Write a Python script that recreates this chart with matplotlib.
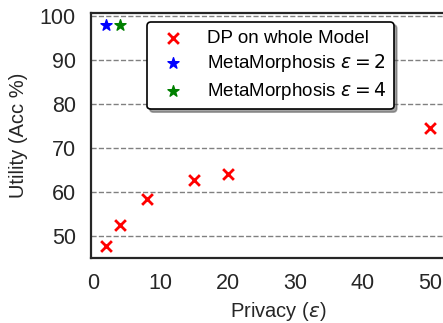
import matplotlib
matplotlib.use("Agg")
import matplotlib.pyplot as plt

plt.rcParams['font.family'] = ['Liberation Sans', 'DejaVu Sans']
plt.rcParams['mathtext.fontset'] = 'dejavusans'

dp_eps = [2, 4, 8, 15, 20, 50]
dp_acc = [47.8, 52.5, 58.5, 62.8, 64.2, 74.5]
mm2_eps = [2]
mm2_acc = [98.0]
mm4_eps = [4]
mm4_acc = [98.0]
xticks = [0, 10, 20, 30, 40, 50]
yticks = [50, 60, 70, 80, 90, 100]

W, H = 443, 323
fig = plt.figure(figsize=(W/100, H/100), dpi=100)
left, right, bottom, top = 91, 465, 65, 310
ax = fig.add_axes([left/W, bottom/H, (right-left)/W, (top-bottom)/H])

ax.scatter(dp_eps, dp_acc, marker='x', color='red', s=60, linewidths=2, label='DP on whole Model', zorder=3)
ax.scatter(mm2_eps, mm2_acc, marker='*', color='blue', s=70, label=r'MetaMorphosis $\varepsilon = 2$', zorder=3)
ax.scatter(mm4_eps, mm4_acc, marker='*', color='green', s=70, label=r'MetaMorphosis $\varepsilon = 4$', zorder=3)

ax.set_xlim(-0.3, 55.2)
ax.set_ylim(45, 100.7)
ax.set_xticks(xticks)
ax.set_yticks(yticks)
ax.tick_params(axis='both', length=0, labelsize=15.5, colors='#262626')
ax.tick_params(axis='x', pad=11)
ax.tick_params(axis='y', pad=11)
ax.yaxis.grid(True, linestyle='--', color='gray', linewidth=1)
ax.set_axisbelow(True)
for s in ['left', 'bottom', 'top']:
    ax.spines[s].set_color('#262626')
    ax.spines[s].set_linewidth(1.6)
ax.spines['right'].set_visible(False)

ax.set_xlabel(r'Privacy ($\varepsilon$)', fontsize=14.5, color='#262626', labelpad=4)
ax.set_ylabel('Utility (Acc %)', fontsize=14.5, color='#262626', labelpad=8)

leg = ax.legend(loc='upper left', bbox_to_anchor=(147/W, 1-22/H), bbox_transform=fig.transFigure,
                borderaxespad=0, fontsize=13.5, frameon=True, shadow=True, fancybox=True, framealpha=1,
                edgecolor='black', handletextpad=0.8, borderpad=0.4, labelspacing=0.3)
leg.get_frame().set_linewidth(1.2)

fig.savefig('out.png', dpi=100)
